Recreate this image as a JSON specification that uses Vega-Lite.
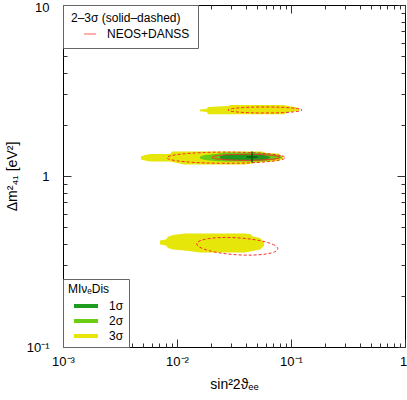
{
  "$schema": "https://vega.github.io/schema/vega-lite/v6.json",
  "width": 342,
  "height": 342,
  "autosize": "none",
  "padding": {"left": 63, "top": 5, "right": 2, "bottom": 53},
  "background": "white",
  "config": {
    "font": "Liberation Sans",
    "view": {"stroke": "black", "strokeWidth": 1},
    "axis": {"grid": false, "domain": false, "labelFont": "Liberation Sans", "titleFont": "Liberation Sans", "labelColor": "black", "titleColor": "black", "tickColor": "#333"},
    "legend": {"labelFont": "Liberation Sans", "titleFont": "Liberation Sans"}
  },
  "datasets": {
    "regions": [
      {"blob": "A", "level": "3σ", "x": 0.0159, "lo": 2.39, "hi": 2.45},
      {"blob": "A", "level": "3σ", "x": 0.0183, "lo": 2.37, "hi": 2.47},
      {"blob": "A", "level": "3σ", "x": 0.0187, "lo": 2.30, "hi": 2.53},
      {"blob": "A", "level": "3σ", "x": 0.0280, "lo": 2.30, "hi": 2.57},
      {"blob": "A", "level": "3σ", "x": 0.0292, "lo": 2.30, "hi": 2.60},
      {"blob": "A", "level": "3σ", "x": 0.0868, "lo": 2.30, "hi": 2.60},
      {"blob": "A", "level": "3σ", "x": 0.0941, "lo": 2.36, "hi": 2.57},
      {"blob": "A", "level": "3σ", "x": 0.1107, "lo": 2.39, "hi": 2.52},
      {"blob": "A", "level": "3σ", "x": 0.1199, "lo": 2.42, "hi": 2.45},
      {"blob": "B", "level": "3σ", "x": 0.00483, "lo": 1.249, "hi": 1.300},
      {"blob": "B", "level": "3σ", "x": 0.00524, "lo": 1.232, "hi": 1.327},
      {"blob": "B", "level": "3σ", "x": 0.00579, "lo": 1.216, "hi": 1.345},
      {"blob": "B", "level": "3σ", "x": 0.00869, "lo": 1.216, "hi": 1.345},
      {"blob": "B", "level": "3σ", "x": 0.00904, "lo": 1.208, "hi": 1.391},
      {"blob": "B", "level": "3σ", "x": 0.0117, "lo": 1.168, "hi": 1.391},
      {"blob": "B", "level": "3σ", "x": 0.0395, "lo": 1.168, "hi": 1.391},
      {"blob": "B", "level": "3σ", "x": 0.0483, "lo": 1.192, "hi": 1.391},
      {"blob": "B", "level": "3σ", "x": 0.0557, "lo": 1.208, "hi": 1.391},
      {"blob": "B", "level": "3σ", "x": 0.0604, "lo": 1.208, "hi": 1.363},
      {"blob": "B", "level": "3σ", "x": 0.0769, "lo": 1.224, "hi": 1.354},
      {"blob": "B", "level": "3σ", "x": 0.0851, "lo": 1.266, "hi": 1.300},
      {"blob": "C", "level": "3σ", "x": 0.00710, "lo": 0.398, "hi": 0.420},
      {"blob": "C", "level": "3σ", "x": 0.00801, "lo": 0.392, "hi": 0.425},
      {"blob": "C", "level": "3σ", "x": 0.00834, "lo": 0.379, "hi": 0.442},
      {"blob": "C", "level": "3σ", "x": 0.00922, "lo": 0.372, "hi": 0.452},
      {"blob": "C", "level": "3σ", "x": 0.0117, "lo": 0.367, "hi": 0.461},
      {"blob": "C", "level": "3σ", "x": 0.0159, "lo": 0.357, "hi": 0.461},
      {"blob": "C", "level": "3σ", "x": 0.0395, "lo": 0.357, "hi": 0.461},
      {"blob": "C", "level": "3σ", "x": 0.0437, "lo": 0.362, "hi": 0.458},
      {"blob": "C", "level": "3σ", "x": 0.0464, "lo": 0.364, "hi": 0.443},
      {"blob": "C", "level": "3σ", "x": 0.0535, "lo": 0.372, "hi": 0.434},
      {"blob": "C", "level": "3σ", "x": 0.0580, "lo": 0.390, "hi": 0.411},
      {"blob": "B", "level": "2σ", "x": 0.0159, "lo": 1.266, "hi": 1.300},
      {"blob": "B", "level": "2σ", "x": 0.0176, "lo": 1.241, "hi": 1.327},
      {"blob": "B", "level": "2σ", "x": 0.0215, "lo": 1.224, "hi": 1.345},
      {"blob": "B", "level": "2σ", "x": 0.0264, "lo": 1.216, "hi": 1.372},
      {"blob": "B", "level": "2σ", "x": 0.0535, "lo": 1.216, "hi": 1.372},
      {"blob": "B", "level": "2σ", "x": 0.0654, "lo": 1.232, "hi": 1.345},
      {"blob": "B", "level": "2σ", "x": 0.0769, "lo": 1.258, "hi": 1.327},
      {"blob": "B", "level": "2σ", "x": 0.0834, "lo": 1.275, "hi": 1.292},
      {"blob": "B", "level": "1σ", "x": 0.0238, "lo": 1.266, "hi": 1.310},
      {"blob": "B", "level": "1σ", "x": 0.0269, "lo": 1.241, "hi": 1.336},
      {"blob": "B", "level": "1σ", "x": 0.0513, "lo": 1.232, "hi": 1.345},
      {"blob": "B", "level": "1σ", "x": 0.0604, "lo": 1.249, "hi": 1.318},
      {"blob": "B", "level": "1σ", "x": 0.0654, "lo": 1.275, "hi": 1.292}
    ],
    "contours": [
      {"ell": "A3", "cl": "3σ", "i": 0, "x": 0.1249, "y": 2.432},
      {"ell": "A3", "cl": "3σ", "i": 1, "x": 0.1180, "y": 2.470},
      {"ell": "A3", "cl": "3σ", "i": 2, "x": 0.1004, "y": 2.502},
      {"ell": "A3", "cl": "3σ", "i": 3, "x": 0.0788, "y": 2.525},
      {"ell": "A3", "cl": "3σ", "i": 4, "x": 0.0591, "y": 2.532},
      {"ell": "A3", "cl": "3σ", "i": 5, "x": 0.0444, "y": 2.525},
      {"ell": "A3", "cl": "3σ", "i": 6, "x": 0.0348, "y": 2.502},
      {"ell": "A3", "cl": "3σ", "i": 7, "x": 0.0296, "y": 2.470},
      {"ell": "A3", "cl": "3σ", "i": 8, "x": 0.0280, "y": 2.432},
      {"ell": "A3", "cl": "3σ", "i": 9, "x": 0.0296, "y": 2.394},
      {"ell": "A3", "cl": "3σ", "i": 10, "x": 0.0348, "y": 2.364},
      {"ell": "A3", "cl": "3σ", "i": 11, "x": 0.0444, "y": 2.342},
      {"ell": "A3", "cl": "3σ", "i": 12, "x": 0.0591, "y": 2.336},
      {"ell": "A3", "cl": "3σ", "i": 13, "x": 0.0788, "y": 2.342},
      {"ell": "A3", "cl": "3σ", "i": 14, "x": 0.1004, "y": 2.364},
      {"ell": "A3", "cl": "3σ", "i": 15, "x": 0.1180, "y": 2.394},
      {"ell": "B3", "cl": "3σ", "i": 0, "x": 0.0886, "y": 1.279},
      {"ell": "B3", "cl": "3σ", "i": 1, "x": 0.0809, "y": 1.317},
      {"ell": "B3", "cl": "3σ", "i": 2, "x": 0.0625, "y": 1.349},
      {"ell": "B3", "cl": "3σ", "i": 3, "x": 0.0425, "y": 1.372},
      {"ell": "B3", "cl": "3σ", "i": 4, "x": 0.0269, "y": 1.380},
      {"ell": "B3", "cl": "3σ", "i": 5, "x": 0.01705, "y": 1.372},
      {"ell": "B3", "cl": "3σ", "i": 6, "x": 0.01159, "y": 1.349},
      {"ell": "B3", "cl": "3σ", "i": 7, "x": 0.00895, "y": 1.317},
      {"ell": "B3", "cl": "3σ", "i": 8, "x": 0.00817, "y": 1.279},
      {"ell": "B3", "cl": "3σ", "i": 9, "x": 0.00895, "y": 1.243},
      {"ell": "B3", "cl": "3σ", "i": 10, "x": 0.01159, "y": 1.213},
      {"ell": "B3", "cl": "3σ", "i": 11, "x": 0.01705, "y": 1.193},
      {"ell": "B3", "cl": "3σ", "i": 12, "x": 0.0269, "y": 1.187},
      {"ell": "B3", "cl": "3σ", "i": 13, "x": 0.0425, "y": 1.193},
      {"ell": "B3", "cl": "3σ", "i": 14, "x": 0.0625, "y": 1.213},
      {"ell": "B3", "cl": "3σ", "i": 15, "x": 0.0809, "y": 1.243},
      {"ell": "B2", "cl": "2σ", "i": 0, "x": 0.0801, "y": 1.286},
      {"ell": "B2", "cl": "2σ", "i": 1, "x": 0.0760, "y": 1.306},
      {"ell": "B2", "cl": "2σ", "i": 2, "x": 0.0654, "y": 1.324},
      {"ell": "B2", "cl": "2σ", "i": 3, "x": 0.0524, "y": 1.335},
      {"ell": "B2", "cl": "2σ", "i": 4, "x": 0.0403, "y": 1.339},
      {"ell": "B2", "cl": "2σ", "i": 5, "x": 0.0310, "y": 1.335},
      {"ell": "B2", "cl": "2σ", "i": 6, "x": 0.0248, "y": 1.324},
      {"ell": "B2", "cl": "2σ", "i": 7, "x": 0.0214, "y": 1.306},
      {"ell": "B2", "cl": "2σ", "i": 8, "x": 0.0203, "y": 1.286},
      {"ell": "B2", "cl": "2σ", "i": 9, "x": 0.0214, "y": 1.266},
      {"ell": "B2", "cl": "2σ", "i": 10, "x": 0.0248, "y": 1.250},
      {"ell": "B2", "cl": "2σ", "i": 11, "x": 0.0310, "y": 1.239},
      {"ell": "B2", "cl": "2σ", "i": 12, "x": 0.0403, "y": 1.235},
      {"ell": "B2", "cl": "2σ", "i": 13, "x": 0.0524, "y": 1.239},
      {"ell": "B2", "cl": "2σ", "i": 14, "x": 0.0654, "y": 1.250},
      {"ell": "B2", "cl": "2σ", "i": 15, "x": 0.0760, "y": 1.266},
      {"ell": "C3", "cl": "3σ", "i": 0, "x": 0.0766, "y": 0.3756},
      {"ell": "C3", "cl": "3σ", "i": 1, "x": 0.0719, "y": 0.3933},
      {"ell": "C3", "cl": "3σ", "i": 2, "x": 0.0602, "y": 0.4111},
      {"ell": "C3", "cl": "3σ", "i": 3, "x": 0.0462, "y": 0.4258},
      {"ell": "C3", "cl": "3σ", "i": 4, "x": 0.0338, "y": 0.4350},
      {"ell": "C3", "cl": "3σ", "i": 5, "x": 0.0247, "y": 0.4367},
      {"ell": "C3", "cl": "3σ", "i": 6, "x": 0.0190, "y": 0.4306},
      {"ell": "C3", "cl": "3σ", "i": 7, "x": 0.0159, "y": 0.4178},
      {"ell": "C3", "cl": "3σ", "i": 8, "x": 0.0149, "y": 0.4010},
      {"ell": "C3", "cl": "3σ", "i": 9, "x": 0.0159, "y": 0.3828},
      {"ell": "C3", "cl": "3σ", "i": 10, "x": 0.0190, "y": 0.3663},
      {"ell": "C3", "cl": "3σ", "i": 11, "x": 0.0247, "y": 0.3535},
      {"ell": "C3", "cl": "3σ", "i": 12, "x": 0.0338, "y": 0.3460},
      {"ell": "C3", "cl": "3σ", "i": 13, "x": 0.0462, "y": 0.3448},
      {"ell": "C3", "cl": "3σ", "i": 14, "x": 0.0602, "y": 0.3498},
      {"ell": "C3", "cl": "3σ", "i": 15, "x": 0.0719, "y": 0.3602}
    ],
    "bestfit": [
      {"x": 0.0455, "y": 1.292}
    ]
  },
  "resolve": {"axis": {"x": "independent", "y": "independent"}},
  "layer": [
    {
      "data": {"name": "regions"},
      "transform": [{"filter": "datum.level == '3σ'"}],
      "mark": {"type": "area", "opacity": 1},
      "encoding": {
        "x": {
          "field": "x", "type": "quantitative",
          "scale": {"type": "log", "domain": [0.001, 1], "nice": false},
          "axis": {
            "orient": "bottom",
            "values": [0.001, 0.002, 0.003, 0.004, 0.005, 0.006, 0.007, 0.008, 0.009, 0.01, 0.02, 0.03, 0.04, 0.05, 0.06, 0.07, 0.08, 0.09, 0.1, 0.2, 0.3, 0.4, 0.5, 0.6, 0.7, 0.8, 0.9, 1],
            "labelExpr": "datum.value < 0.0015 ? '10⁻³' : abs(datum.value-0.01) < 0.0001 ? '10⁻²' : abs(datum.value-0.1) < 0.001 ? '10⁻¹' : abs(datum.value-1) < 0.01 ? '1' : ''",
            "tickSize": {"condition": {"test": "abs(log(datum.value)/LN10 - round(log(datum.value)/LN10)) < 0.001", "value": -8}, "value": -4},
            "labelOffset": {"condition": {"test": "datum.value > 0.5", "value": -2}, "value": 0},
            "labelPadding": 16,
            "labelFontSize": 13,
            "labelFlush": false,
            "labelOverlap": false,
            "title": "sin²2ϑₑₑ",
            "titleFontSize": 14,
            "titleFontWeight": "normal",
            "titleX": 171,
            "titleY": 37,
            "titleAlign": "center",
            "titleBaseline": "middle"
          }
        },
        "y": {
          "field": "hi", "type": "quantitative",
          "scale": {"type": "log", "domain": [0.1, 10], "nice": false},
          "axis": {
            "orient": "left",
            "values": [0.1, 0.2, 0.3, 0.4, 0.5, 0.6, 0.7, 0.8, 0.9, 1, 2, 3, 4, 5, 6, 7, 8, 9, 10],
            "labelExpr": "abs(datum.value-0.1) < 0.001 ? '10⁻¹' : abs(datum.value-1) < 0.01 ? '1' : abs(datum.value-10) < 0.1 ? '10' : ''",
            "tickSize": {"condition": {"test": "abs(log(datum.value)/LN10 - round(log(datum.value)/LN10)) < 0.001", "value": -8}, "value": -4},
            "labelOffset": {"condition": {"test": "datum.value > 5", "value": 2}, "value": 0},
            "labelPadding": 22,
            "labelFontSize": 13,
            "labelFlush": false,
            "labelOverlap": false,
            "title": "Δm²₄₁   [eV²]",
            "titleFontSize": 14,
            "titleFontWeight": "normal",
            "titleX": -51,
            "titleY": 171,
            "titleAngle": -90,
            "titleAlign": "center",
            "titleBaseline": "middle"
          }
        },
        "y2": {"field": "lo"},
        "detail": {"field": "blob"},
        "fill": {
          "field": "level", "type": "nominal",
          "scale": {"domain": ["1σ", "2σ", "3σ"], "range": ["#1f9b1f", "#6ccc14", "#e6e60a"]},
          "legend": {
            "title": "MIνₑDis",
            "orient": "none", "legendX": 0, "legendY": 274,
            "symbolType": "M-3,-0.5H3V0.5H-3Z",
            "symbolSize": 64,
            "symbolStrokeWidth": 0,
            "symbolOffset": 12,
            "labelOffset": 17,
            "padding": 5,
            "rowPadding": 3,
            "titlePadding": 4,
            "strokeColor": "#666",
            "fillColor": "white",
            "titleFontSize": 12,
            "titleFontWeight": "normal",
            "labelFontSize": 12,
            "titleColor": "black",
            "labelColor": "black"
          }
        }
      }
    },
    {
      "data": {"name": "regions"},
      "transform": [{"filter": "datum.level == '2σ'"}],
      "mark": {"type": "area"},
      "encoding": {
        "x": {"field": "x", "type": "quantitative", "axis": null},
        "y": {"field": "hi", "type": "quantitative", "axis": null},
        "y2": {"field": "lo"},
        "detail": {"field": "blob"},
        "fill": {"field": "level", "type": "nominal"}
      }
    },
    {
      "data": {"name": "regions"},
      "transform": [{"filter": "datum.level == '1σ'"}],
      "mark": {"type": "area"},
      "encoding": {
        "x": {"field": "x", "type": "quantitative", "axis": null},
        "y": {"field": "hi", "type": "quantitative", "axis": null},
        "y2": {"field": "lo"},
        "detail": {"field": "blob"},
        "fill": {"field": "level", "type": "nominal"}
      }
    },
    {
      "data": {"name": "contours"},
      "mark": {"type": "line", "interpolate": "cardinal-closed", "strokeWidth": 1},
      "encoding": {
        "x": {
          "field": "x", "type": "quantitative",
          "axis": {
            "orient": "top",
            "values": [0.001, 0.002, 0.003, 0.004, 0.005, 0.006, 0.007, 0.008, 0.009, 0.01, 0.02, 0.03, 0.04, 0.05, 0.06, 0.07, 0.08, 0.09, 0.1, 0.2, 0.3, 0.4, 0.5, 0.6, 0.7, 0.8, 0.9, 1],
            "labels": false,
            "title": null,
            "tickSize": {"condition": {"test": "abs(log(datum.value)/LN10 - round(log(datum.value)/LN10)) < 0.001", "value": -8}, "value": -4}
          }
        },
        "y": {
          "field": "y", "type": "quantitative",
          "axis": {
            "orient": "right",
            "values": [0.1, 0.2, 0.3, 0.4, 0.5, 0.6, 0.7, 0.8, 0.9, 1, 2, 3, 4, 5, 6, 7, 8, 9, 10],
            "labels": false,
            "title": null,
            "tickSize": {"condition": {"test": "abs(log(datum.value)/LN10 - round(log(datum.value)/LN10)) < 0.001", "value": -8}, "value": -4}
          }
        },
        "detail": {"field": "ell"},
        "order": {"field": "i", "type": "quantitative"},
        "stroke": {
          "datum": "NEOS+DANSS", "type": "nominal",
          "scale": {"range": ["#ff2a2a"]},
          "legend": {
            "title": "2–3σ (solid–dashed)",
            "orient": "none", "legendX": 0, "legendY": 0,
            "symbolType": "stroke",
            "symbolSize": 144,
            "symbolStrokeWidth": 1.5,
            "symbolOpacity": 0.5,
            "symbolDash": [],
            "symbolOffset": 12,
            "labelOffset": 10,
            "padding": 8,
            "titlePadding": 2,
            "strokeColor": "#666",
            "fillColor": "white",
            "titleFontSize": 12,
            "titleFontWeight": "normal",
            "labelFontSize": 12,
            "titleColor": "black",
            "labelColor": "black"
          }
        },
        "strokeDash": {
          "field": "cl", "type": "nominal",
          "scale": {"domain": ["2σ", "3σ"], "range": [[1, 0], [3, 2]]},
          "legend": null
        }
      }
    },
    {
      "data": {"name": "bestfit"},
      "mark": {"type": "point", "shape": "M-1,0H1M0,-1V1", "filled": false, "stroke": "#0b5e0b", "strokeWidth": 1.5, "size": 121, "opacity": 1},
      "encoding": {
        "x": {"field": "x", "type": "quantitative", "axis": null},
        "y": {"field": "y", "type": "quantitative", "axis": null}
      }
    }
  ]
}
